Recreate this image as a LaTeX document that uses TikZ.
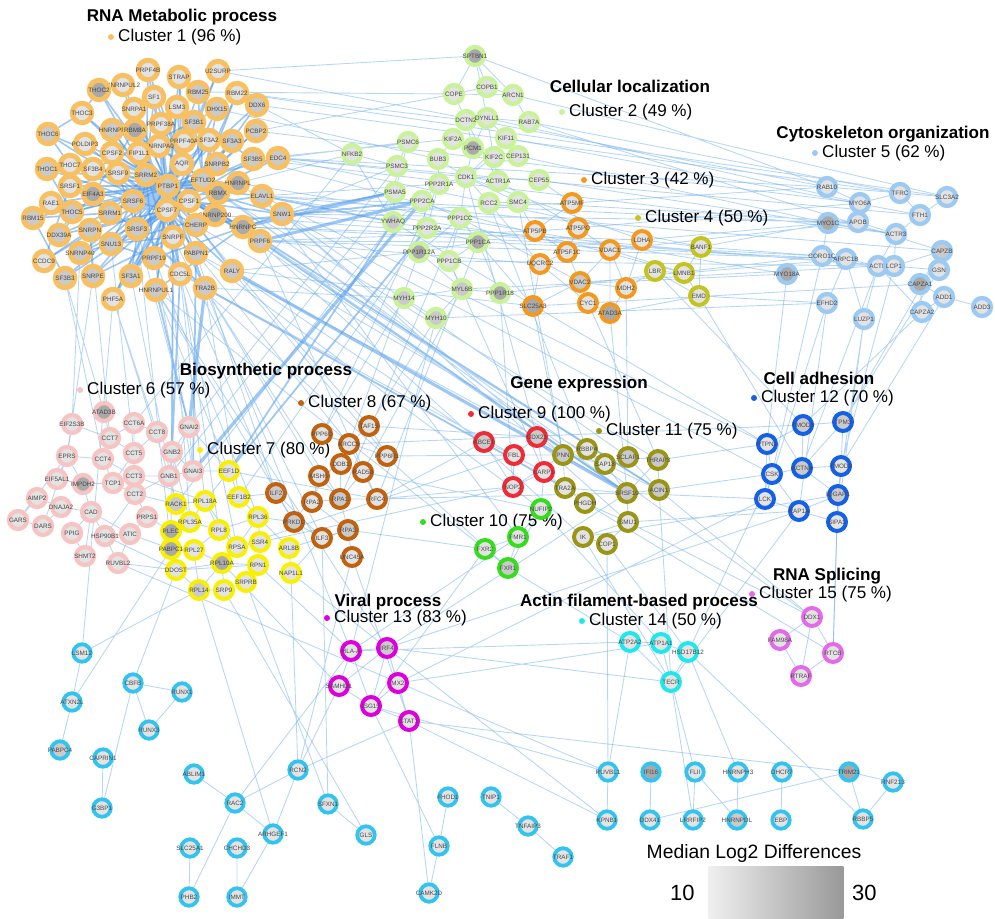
\documentclass[tikz,border=0pt]{standalone}
\usepackage{fontspec}
\setmainfont{Liberation Sans}
\setsansfont{Liberation Sans}
\usepackage{xcolor}
\usepackage{tikz}
\usetikzlibrary{positioning,backgrounds}

\definecolor{clOne}{HTML}{F7C163}
\definecolor{clTwo}{HTML}{C9F29B}
\definecolor{clThree}{HTML}{F39A1E}
\definecolor{clFour}{HTML}{C4C41F}
\definecolor{clFive}{HTML}{9DCAF2}
\definecolor{clSix}{HTML}{F6C5C3}
\definecolor{clSeven}{HTML}{F8F000}
\definecolor{clEight}{HTML}{C0620E}
\definecolor{clNine}{HTML}{EE2C38}
\definecolor{clTen}{HTML}{36DD1E}
\definecolor{clEleven}{HTML}{9B9515}
\definecolor{clTwelve}{HTML}{1460E6}
\definecolor{clThirteen}{HTML}{DD00DD}
\definecolor{clFourteen}{HTML}{1FE8EC}
\definecolor{clFifteen}{HTML}{E36AE8}
\definecolor{clRest}{HTML}{33C3EF}
\definecolor{edgeBlue}{HTML}{6FAEEB}
\definecolor{coreBlue}{HTML}{3D8FEA}
\definecolor{fillLo}{HTML}{E3E3E3}
\definecolor{fillMid}{HTML}{CACACA}
\definecolor{fillHi}{HTML}{A9A9A9}

\begin{document}
\begin{tikzpicture}[
    x=0.2mm, y=-0.2mm,
    font=\sffamily,
    gene/.style={circle, fill=fillLo, line width=0.85mm, minimum size=3.6mm, inner sep=0pt,
                 font=\sffamily\fontsize{3.6}{4}\selectfont, text=black!72,
                 execute at begin node={\hbox to 0pt\bgroup\hss},
                 execute at end node={\hss\egroup}},
    mid/.style={fill=fillMid},
    hi/.style={fill=fillHi},
    c1/.style={gene, draw=clOne, line width=1mm, minimum size=3.9mm},
    c2/.style={gene, draw=clTwo},
    c3/.style={gene, draw=clThree, line width=0.8mm},
    c4/.style={gene, draw=clFour, line width=0.8mm},
    c5/.style={gene, draw=clFive},
    c6/.style={gene, draw=clSix},
    c7/.style={gene, draw=clSeven, line width=0.8mm},
    c8/.style={gene, draw=clEight, line width=0.8mm},
    c9/.style={gene, draw=clNine, line width=0.8mm},
    c10/.style={gene, draw=clTen, line width=0.8mm},
    c11/.style={gene, draw=clEleven, line width=0.8mm},
    c12/.style={gene, draw=clTwelve, line width=0.8mm},
    c13/.style={gene, draw=clThirteen, line width=0.8mm},
    c14/.style={gene, draw=clFourteen, line width=0.8mm},
    c15/.style={gene, draw=clFifteen, line width=0.8mm},
    rest/.style={gene, draw=clRest, line width=0.75mm, minimum size=3.5mm},
    title/.style={font=\sffamily\bfseries\fontsize{9.7}{11}\selectfont, inner sep=0pt},
    clabel/.style={font=\sffamily\fontsize{9.7}{11}\selectfont, inner sep=0pt, anchor=west},
    cdot/.style={circle, inner sep=0pt, minimum size=1.2mm},
    legend/.style={font=\sffamily\fontsize{11}{13}\selectfont, inner sep=0pt},
    edge/.style={draw=edgeBlue, line width=0.5pt, opacity=0.5},
    coreedge/.style={draw=coreBlue, line width=0.9pt, opacity=0.5},
    bundle/.style={draw=coreBlue, line width=1.8pt, opacity=0.5}
]
\useasboundingbox (0,0) rectangle (995,919);

% Titles and cluster labels.
\node[title] (tOne) at (182,17) {RNA Metabolic process};
\node[cdot, fill=clOne] (dOne) at (111,37) {};
\node[clabel, right=0.7mm of dOne] (kOne) {Cluster 1 (96 \%)};
\node[title] (tTwo) at (630,86) {Cellular localization};
\node[cdot, fill=clTwo] (dTwo) at (562,112) {};
\node[clabel, right=0.7mm of dTwo] (kTwo) {Cluster 2 (49 \%)};
\node[cdot, fill=clThree] (dThree) at (584,180) {};
\node[clabel, right=0.7mm of dThree] (kThree) {Cluster 3 (42 \%)};
\node[cdot, fill=clFour] (dFour) at (638,218) {};
\node[clabel, right=0.7mm of dFour] (kFour) {Cluster 4 (50 \%)};
\node[title] (tFive) at (883,134) {Cytoskeleton organization};
\node[cdot, fill=clFive] (dFive) at (815,153) {};
\node[clabel, right=0.7mm of dFive] (kFive) {Cluster 5 (62 \%)};
\node[title] (tSix) at (266,371) {Biosynthetic process};
\node[cdot, fill=clSix] (dSix) at (80,390) {};
\node[clabel, right=0.7mm of dSix] (kSix) {Cluster 6 (57 \%)};
\node[cdot, fill=clSeven] (dSeven) at (200,450) {};
\node[clabel, right=0.7mm of dSeven] (kSeven) {Cluster 7 (80 \%)};
\node[cdot, fill=clEight] (dEight) at (301,403) {};
\node[clabel, right=0.7mm of dEight] (kEight) {Cluster 8 (67 \%)};
\node[title] (tNine) at (579,384) {Gene expression};
\node[cdot, fill=clNine] (dNine) at (471,414) {};
\node[clabel, right=0.7mm of dNine] (kNine) {Cluster 9 (100 \%)};
\node[cdot, fill=clTen] (dTen) at (423,522) {};
\node[clabel, right=0.7mm of dTen] (kTen) {Cluster 10 (75 \%)};
\node[cdot, fill=clEleven] (dEleven) at (599,431) {};
\node[clabel, right=0.7mm of dEleven] (kEleven) {Cluster 11 (75 \%)};
\node[title] (tTwelve) at (819,378) {Cell adhesion};
\node[cdot, fill=clTwelve] (dTwelve) at (754,398) {};
\node[clabel, right=0.7mm of dTwelve] (kTwelve) {Cluster 12 (70 \%)};
\node[title] (tThirteen) at (388,602) {Viral process};
\node[cdot, fill=clThirteen] (dThirteen) at (327,618) {};
\node[clabel, right=0.7mm of dThirteen] (kThirteen) {Cluster 13 (83 \%)};
\node[title] (tFourteen) at (639,602) {Actin filament-based process};
\node[cdot, fill=clFourteen] (dFourteen) at (582,621) {};
\node[clabel, right=0.7mm of dFourteen] (kFourteen) {Cluster 14 (50 \%)};
\node[title] (tFifteen) at (827,576) {RNA Splicing};
\node[cdot, fill=clFifteen] (dFifteen) at (752,594) {};
\node[clabel, right=0.7mm of dFifteen] (kFifteen) {Cluster 15 (75 \%)};

% Cluster 1: RNA metabolic process.
\node[c1] (PRPF4B) at (148,70) {PRPF4B};
\node[c1] (STRAP) at (179,77) {STRAP};
\node[c1] (U2SURP) at (218,71) {U2SURP};
\node[c1] (HNRNPUL2) at (123,85) {HNRNPUL2};
\node[c1, hi] (THOC2) at (99,90) {THOC2};
\node[c1] (SF1) at (154,97) {SF1};
\node[c1, mid] (RBM25) at (198,92) {RBM25};
\node[c1] (RBM22) at (237,93) {RBM22};
\node[c1, mid] (DDX6) at (257,105) {DDX6};
\node[c1] (LSM3) at (177,107) {LSM3};
\node[c1] (SNRPA1) at (134,109) {SNRPA1};
\node[c1, mid] (DHX15) at (217,109) {DHX15};
\node[c1] (THOC3) at (82,113) {THOC3};
\node[c1, mid] (SF3B1) at (194,122) {SF3B1};
\node[c1] (PRPF38A) at (161,124) {PRPF38A};
\node[c1, mid] (THOC6) at (48,134) {THOC6};
\node[c1, mid] (HNRNPF) at (112,130) {HNRNPF};
\node[c1, hi] (RBM8A) at (135,130) {RBM8A};
\node[c1, mid] (PCBP2) at (256,131) {PCBP2};
\node[c1] (PRPF40A) at (184,141) {PRPF40A};
\node[c1] (SF3A2) at (209,140) {SF3A2};
\node[c1, mid] (SF3A3) at (232,141) {SF3A3};
\node[c1] (POLDIP3) at (85,144) {POLDIP3};
\node[c1] (HNRNPA0) at (159,146) {HNRNPA0};
\node[c1] (CPSF2) at (112,153) {CPSF2};
\node[c1] (FIP1L1) at (139,153) {FIP1L1};
\node[c1, mid] (SF3B5) at (253,159) {SF3B5};
\node[c1, mid] (EDC4) at (278,158) {EDC4};
\node[c1] (AQR) at (182,164) {AQR};
\node[c1, mid] (SNRPB2) at (217,164) {SNRPB2};
\node[c1] (THOC7) at (70,165) {THOC7};
\node[c1, mid] (THOC1) at (47,169) {THOC1};
\node[c1] (SF3B4) at (93,169) {SF3B4};
\node[c1] (SRSF9) at (118,173) {SRSF9};
\node[c1, mid] (SRRM2) at (146,175) {SRRM2};
\node[c1, mid] (EFTUD2) at (203,180) {EFTUD2};
\node[c1, hi] (HNRNPL) at (238,183) {HNRNPL};
\node[c1, mid] (PTBP1) at (168,186) {PTBP1};
\node[c1] (SRSF1) at (70,186) {SRSF1};
\node[c1, hi] (EIF4A3) at (93,194) {EIF4A3};
\node[c1, hi] (RBMX) at (218,193) {RBMX};
\node[c1, mid] (ELAVL1) at (262,196) {ELAVL1};
\node[c1, mid] (SRSF6) at (133,201) {SRSF6};
\node[c1] (CPSF1) at (189,201) {CPSF1};
\node[c1] (RAE1) at (51,203) {RAE1};
\node[c1] (CPSF7) at (167,210) {CPSF7};
\node[c1, mid] (THOC5) at (72,212) {THOC5};
\node[c1, mid] (SRRM1) at (110,213) {SRRM1};
\node[c1, mid] (SNW1) at (282,214) {SNW1};
\node[c1, hi] (SNRNP200) at (215,215) {SNRNP200};
\node[c1, mid] (RBM15) at (33,218) {RBM15};
\node[c1, mid] (CHERP) at (196,225) {CHERP};
\node[c1, hi] (HNRNPC) at (243,227) {HNRNPC};
\node[c1, mid] (SRSF3) at (137,229) {SRSF3};
\node[c1, mid] (SNRPN) at (90,230) {SNRPN};
\node[c1, mid] (DDX39A) at (59,235) {DDX39A};
\node[c1] (SNRPF) at (173,237) {SNRPF};
\node[c1, mid] (PRPF6) at (260,241) {PRPF6};
\node[c1, mid] (SNU13) at (111,244) {SNU13};
\node[c1, mid] (PABPN1) at (196,253) {PABPN1};
\node[c1, mid] (SNRNP40) at (80,253) {SNRNP40};
\node[c1, mid] (PRPF19) at (154,258) {PRPF19};
\node[c1] (CCDC9) at (44,261) {CCDC9};
\node[c1, mid] (RALY) at (232,271) {RALY};
\node[c1] (CDC5L) at (180,274) {CDC5L};
\node[c1, mid] (SF3A1) at (131,276) {SF3A1};
\node[c1, mid] (SNRPE) at (93,276) {SNRPE};
\node[c1, mid] (SF3B3) at (65,278) {SF3B3};
\node[c1, mid] (TRA2B) at (205,288) {TRA2B};
\node[c1, mid] (HNRNPUL1) at (156,290) {HNRNPUL1};
\node[c1] (PHF5A) at (113,299) {PHF5A};

% Cluster 2: cellular localization.
\node[c2, hi] (SPTBN1) at (475,56) {SPTBN1};
\node[c2] (COPE) at (454,94) {COPE};
\node[c2] (COPB1) at (487,87) {COPB1};
\node[c2] (ARCN1) at (513,95) {ARCN1};
\node[c2] (DCTN2) at (466,120) {DCTN2};
\node[c2] (DYNLL1) at (487,118) {DYNLL1};
\node[c2] (RAB7A) at (529,122) {RAB7A};
\node[c2] (KIF2A) at (453,139) {KIF2A};
\node[c2, hi] (PCM1) at (473,148) {PCM1};
\node[c2] (KIF11) at (506,138) {KIF11};
\node[c2] (PSMC6) at (408,142) {PSMC6};
\node[c2] (NFKB2) at (352,154) {NFKB2};
\node[c2] (KIF2C) at (494,157) {KIF2C};
\node[c2] (CEP131) at (518,156) {CEP131};
\node[c2] (BUB3) at (438,159) {BUB3};
\node[c2] (PSMC3) at (397,166) {PSMC3};
\node[c2] (CDK1) at (466,177) {CDK1};
\node[c2] (PPP2R1A) at (439,184) {PPP2R1A};
\node[c2] (ACTR1A) at (498,181) {ACTR1A};
\node[c2] (CEP55) at (539,180) {CEP55};
\node[c2] (PSMA5) at (395,192) {PSMA5};
\node[c2] (PPP2CA) at (422,201) {PPP2CA};
\node[c2] (RCC2) at (489,203) {RCC2};
\node[c2] (SMC4) at (518,202) {SMC4};
\node[c2, mid] (YWHAQ) at (393,222) {YWHAQ};
\node[c2] (PPP1CC) at (460,218) {PPP1CC};
\node[c2] (PPP2R2A) at (427,228) {PPP2R2A};
\node[c2, hi] (PPP1CA) at (478,242) {PPP1CA};
\node[c2, hi] (PPP1R12A) at (419,252) {PPP1R12A};
\node[c2] (PPP1CB) at (449,261) {PPP1CB};
\node[c2, mid] (MYL6B) at (462,289) {MYL6B};
\node[c2, hi] (PPP1R18) at (500,293) {PPP1R18};
\node[c2, mid] (MYH14) at (404,298) {MYH14};
\node[c2, mid] (MYH10) at (436,318) {MYH10};

% Clusters 3 and 4.
\node[c3] (ATP5MF) at (572,203) {ATP5MF};
\node[c3] (ATP5PB) at (535,231) {ATP5PB};
\node[c3] (ATP5PO) at (578,228) {ATP5PO};
\node[c3] (LDHA) at (642,240) {LDHA};
\node[c3] (ATP5F1C) at (567,252) {ATP5F1C};
\node[c3] (VDAC1) at (610,250) {VDAC1};
\node[c3] (UQCRC2) at (540,264) {UQCRC2};
\node[c3, mid] (VDAC2) at (580,282) {VDAC2};
\node[c3] (MDH2) at (626,288) {MDH2};
\node[c3, hi] (SLC25A3) at (533,306) {SLC25A3};
\node[c3] (CYC1) at (588,303) {CYC1};
\node[c3, hi] (ATAD3A) at (610,313) {ATAD3A};
\node[c4] (BANF1) at (701,247) {BANF1};
\node[c4] (LBR) at (655,271) {LBR};
\node[c4] (LMNB1) at (684,273) {LMNB1};
\node[c4] (EMD) at (699,296) {EMD};

% Cluster 5: cytoskeleton organization.
\node[c5] (RAB10) at (827,187) {RAB10};
\node[c5] (TFRC) at (900,193) {TFRC};
\node[c5] (SLC3A2) at (947,197) {SLC3A2};
\node[c5] (MYO6A) at (860,203) {MYO6A};
\node[c5] (FTH1) at (920,215) {FTH1};
\node[c5, hi] (MYO1C) at (828,223) {MYO1C};
\node[c5] (APOB) at (858,222) {APOB};
\node[c5] (ACTR3) at (896,234) {ACTR3};
\node[c5, mid] (CAPZB) at (942,251) {CAPZB};
\node[c5] (CORO1C) at (822,256) {CORO1C};
\node[c5] (ARPC1B) at (846,259) {ARPC1B};
\node[c5] (ACTR) at (878,266) {ACTR};
\node[c5] (LCP1) at (894,266) {LCP1};
\node[c5] (GSN) at (939,270) {GSN};
\node[c5, hi] (MYO18A) at (787,274) {MYO18A};
\node[c5, hi] (CAPZA1) at (920,284) {CAPZA1};
\node[c5] (ADD1) at (944,297) {ADD1};
\node[c5] (EFHD2) at (827,303) {EFHD2};
\node[c5] (ADD3) at (982,307) {ADD3};
\node[c5] (CAPZA2) at (922,312) {CAPZA2};
\node[c5] (LUZP1) at (864,319) {LUZP1};

% Cluster 6.
\node[c6, hi] (ATAD3B) at (104,412) {ATAD3B};
\node[c6] (EIF2S3B) at (72,424) {EIF2S3B};
\node[c6] (CCT6A) at (134,423) {CCT6A};
\node[c6] (CCT8) at (157,432) {CCT8};
\node[c6] (GNAI2) at (189,427) {GNAI2};
\node[c6] (CCT7) at (110,438) {CCT7};
\node[c6] (EPRS) at (67,456) {EPRS};
\node[c6] (CCT4) at (103,459) {CCT4};
\node[c6] (CCT5) at (134,453) {CCT5};
\node[c6] (GNB2) at (172,452) {GNB2};
\node[c6] (GNB1) at (169,476) {GNB1};
\node[c6] (GNAI3) at (193,471) {GNAI3};
\node[c6] (EIF5AL1) at (57,479) {EIF5AL1};
\node[c6, hi] (IMPDH2) at (83,484) {IMPDH2};
\node[c6] (TCP1) at (113,483) {TCP1};
\node[c6] (CCT3) at (134,476) {CCT3};
\node[c6] (CCT2) at (135,494) {CCT2};
\node[c6] (AIMP2) at (37,498) {AIMP2};
\node[c6] (DNAJA2) at (61,507) {DNAJA2};
\node[c6] (CAD) at (91,512) {CAD};
\node[c6] (PRPS1) at (147,517) {PRPS1};
\node[c6] (GARS) at (18,520) {GARS};
\node[c6] (DARS) at (43,526) {DARS};
\node[c6] (PPIG) at (72,533) {PPIG};
\node[c6] (HSP90B1) at (105,536) {HSP90B1};
\node[c6] (ATIC) at (130,534) {ATIC};
\node[c6] (SHMT2) at (85,556) {SHMT2};
\node[c6] (RUVBL2) at (118,563) {RUVBL2};

% Cluster 7.
\node[c7] (EEF1D) at (229,471) {EEF1D};
\node[c7, mid] (RACK1) at (176,504) {RACK1};
\node[c7] (RPL18A) at (205,501) {RPL18A};
\node[c7] (EEF1B2) at (239,497) {EEF1B2};
\node[c7] (RPL36) at (258,517) {RPL36};
\node[c7] (RPL35A) at (190,522) {RPL35A};
\node[c7] (RPL8) at (219,530) {RPL8};
\node[c7, hi] (PLEC) at (171,531) {PLEC};
\node[c7] (SSR4) at (260,542) {SSR4};
\node[c7] (ARL8B) at (289,548) {ARL8B};
\node[c7] (RPSA) at (237,547) {RPSA};
\node[c7, hi] (PABPC1) at (171,549) {PABPC1};
\node[c7] (RPL27) at (194,550) {RPL27};
\node[c7] (DDOST) at (176,570) {DDOST};
\node[c7, hi] (RPL10A) at (222,563) {RPL10A};
\node[c7] (RPN1) at (258,565) {RPN1};
\node[c7] (NAP1L1) at (291,573) {NAP1L1};
\node[c7] (SRPRB) at (246,582) {SRPRB};
\node[c7, mid] (RPL14) at (199,590) {RPL14};
\node[c7] (SRP9) at (224,590) {SRP9};

% Cluster 8.
\node[c8] (TAF15) at (369,426) {TAF15};
\node[c8] (PPP6C) at (322,434) {PPP6C};
\node[c8] (XRCC5) at (349,444) {XRCC5};
\node[c8] (PPP6R1) at (387,456) {PPP6R1};
\node[c8] (DDB1) at (341,464) {DDB1};
\node[c8] (MSH6) at (319,476) {MSH6};
\node[c8] (RAD50) at (363,472) {RAD50};
\node[c8, mid] (ILF2) at (276,493) {ILF2};
\node[c8] (RPA2) at (312,502) {RPA2};
\node[c8, mid] (RPA1) at (340,499) {RPA1};
\node[c8] (RFC4) at (377,499) {RFC4};
\node[c8, mid] (PRKDC) at (294,522) {PRKDC};
\node[c8, mid] (RPA3) at (348,530) {RPA3};
\node[c8] (ILF3) at (322,538) {ILF3};
\node[c8] (UNC45A) at (352,557) {UNC45A};

% Clusters 9, 10 and 11: gene expression.
\node[c9, mid] (ABCE1) at (484,442) {ABCE1};
\node[c9, mid] (DDX21) at (537,437) {DDX21};
\node[c9] (FBL) at (514,455) {FBL};
\node[c9] (LARP1) at (544,472) {LARP1};
\node[c9] (NOP2) at (513,487) {NOP2};
\node[c10] (NUFIP2) at (541,509) {NUFIP2};
\node[c10] (FMR1) at (518,537) {FMR1};
\node[c10] (FXR2) at (485,549) {FXR2};
\node[c10, mid] (FXR1) at (508,568) {FXR1};
\node[c11, mid] (PNN) at (563,455) {PNN};
\node[c11] (RBBP4) at (587,449) {RBBP4};
\node[c11] (SAP18) at (605,464) {SAP18};
\node[c11, mid] (SCLAF1) at (628,457) {SCLAF1};
\node[c11, mid] (THRAP3) at (658,460) {THRAP3};
\node[c11] (TRA2A) at (565,488) {TRA2A};
\node[c11, mid] (SRSF10) at (627,493) {SRSF10};
\node[c11, mid] (ACIN1) at (659,490) {ACIN1};
\node[c11] (PHGDH) at (585,503) {PHGDH};
\node[c11] (SMU1) at (628,522) {SMU1};
\node[c11] (IK) at (583,537) {IK};
\node[c11] (COP1) at (607,544) {COP1};

% Cluster 12: cell adhesion.
\node[c12, mid] (TMOD3) at (803,425) {TMOD3};
\node[c12, mid] (TPM3) at (843,422) {TPM3};
\node[c12] (PTPN1) at (767,444) {PTPN1};
\node[c12, mid] (ACTN4) at (802,468) {ACTN4};
\node[c12] (TMOD2) at (841,466) {TMOD2};
\node[c12] (CSK) at (772,474) {CSK};
\node[c12] (LCK) at (765,499) {LCK};
\node[c12, mid] (IQGAP1) at (838,495) {IQGAP1};
\node[c12] (RAP1A) at (799,511) {RAP1A};
\node[c12] (SIPA1) at (837,522) {SIPA1};

% Clusters 13, 14 and 15.
\node[c13] (hlaA) at (351,651) {HLA-A};
\node[c13, mid] (IRF4) at (387,648) {IRF4};
\node[c13] (SAMHD1) at (339,686) {SAMHD1};
\node[c13] (MX2) at (398,683) {MX2};
\node[c13] (ISG15) at (371,706) {ISG15};
\node[c13] (STAT1) at (409,721) {STAT1};
\node[c14] (ATP2A2) at (630,642) {ATP2A2};
\node[c14] (ATP1A1) at (661,643) {ATP1A1};
\node[c14] (HSD17B12) at (688,652) {HSD17B12};
\node[c14] (TECR) at (671,682) {TECR};
\node[c15] (DDX1) at (812,617) {DDX1};
\node[c15] (FAM98A) at (780,640) {FAM98A};
\node[c15] (RTCB) at (833,653) {RTCB};
\node[c15] (RTRAF) at (801,676) {RTRAF};

% Proteins outside the clusters.
\node[rest] (LSM12) at (82,653) {LSM12};
\node[rest] (CBFB) at (133,683) {CBFB};
\node[rest] (RUNX1) at (182,692) {RUNX1};
\node[rest] (ATXN2L) at (72,702) {ATXN2L};
\node[rest] (RUNX3) at (149,730) {RUNX3};
\node[rest, mid] (PABPC4) at (60,750) {PABPC4};
\node[rest] (CAPRIN1) at (103,758) {CAPRIN1};
\node[rest] (ABLIM1) at (194,774) {ABLIM1};
\node[rest] (RCN2) at (298,770) {RCN2};
\node[rest] (RAC2) at (235,803) {RAC2};
\node[rest] (SFXN1) at (328,804) {SFXN1};
\node[rest] (G3BP1) at (102,808) {G3BP1};
\node[rest] (ARHGEF1) at (273,834) {ARHGEF1};
\node[rest] (GLS) at (366,835) {GLS};
\node[rest] (SLC25A1) at (190,848) {SLC25A1};
\node[rest] (CHCHD3) at (237,848) {CHCHD3};
\node[rest] (PHB2) at (189,897) {PHB2};
\node[rest] (IMMT) at (237,897) {IMMT};
\node[rest] (CAMK2D) at (429,893) {CAMK2D};
\node[rest] (FHOD1) at (448,797) {FHOD1};
\node[rest] (TNIP1) at (491,797) {TNIP1};
\node[rest] (TNFAIP3) at (528,826) {TNFAIP3};
\node[rest] (FLNB) at (439,846) {FLNB};
\node[rest] (TRAF1) at (563,857) {TRAF1};
\node[rest] (RUVBL1) at (608,772) {RUVBL1};
\node[rest, hi] (IFI16) at (651,772) {IFI16};
\node[rest] (FLII) at (695,772) {FLII};
\node[rest] (HNRNPH3) at (738,772) {HNRNPH3};
\node[rest] (DHCR7) at (782,772) {DHCR7};
\node[rest, hi] (TRIM21) at (849,772) {TRIM21};
\node[rest] (RNF213) at (893,782) {RNF213};
\node[rest] (KPNB1) at (607,820) {KPNB1};
\node[rest] (DDX41) at (650,820) {DDX41};
\node[rest] (LRRFIP2) at (693,820) {LRRFIP2};
\node[rest, mid] (HNRNPDL) at (737,820) {HNRNPDL};
\node[rest] (EBP) at (781,820) {EBP};
\node[rest] (RBBP5) at (863,819) {RBBP5};

% Legend.
\node[legend] (lg) at (754,853) {Median Log2 Differences};
\node[left color=white!94!black, right color=black!40, minimum width=27mm, minimum height=10.6mm,
      inner sep=0pt, anchor=north west] (bar) at (708,866) {};
\node[legend, font=\sffamily\fontsize{12.5}{14}\selectfont, left=2.6mm of bar] (loVal) {10};
\node[legend, font=\sffamily\fontsize{12.5}{14}\selectfont, right=1.6mm of bar] (hiVal) {30};

\begin{scope}[on background layer]
% Cluster 1 core.
\draw[coreedge] (PRPF4B) -- (AQR) (STRAP) -- (AQR) (U2SURP) -- (AQR) (HNRNPUL2) -- (SRRM2) (THOC2) -- (SRRM2)
  (SF1) -- (AQR) (RBM25) -- (EFTUD2) (RBM22) -- (EFTUD2) (DDX6) -- (EFTUD2) (LSM3) -- (AQR) (SNRPA1) -- (SRRM2)
  (DHX15) -- (EFTUD2) (THOC3) -- (SRRM2) (SF3B1) -- (AQR) (PRPF38A) -- (AQR) (THOC6) -- (SRRM2) (HNRNPF) -- (SRRM2)
  (RBM8A) -- (SRRM2) (PCBP2) -- (EFTUD2) (PRPF40A) -- (AQR) (SF3A2) -- (AQR) (SF3A3) -- (EFTUD2) (POLDIP3) -- (SRRM2)
  (HNRNPA0) -- (AQR) (CPSF2) -- (PTBP1) (FIP1L1) -- (PTBP1) (SF3B5) -- (EFTUD2) (EDC4) -- (PTBP1) (SNRPB2) -- (PTBP1)
  (THOC7) -- (SRRM2) (THOC1) -- (PTBP1) (SF3B4) -- (SRRM2) (SRSF9) -- (PTBP1) (SRRM2) -- (PTBP1) (EFTUD2) -- (PTBP1)
  (HNRNPL) -- (PTBP1) (SRSF1) -- (PTBP1) (EIF4A3) -- (PTBP1) (RBMX) -- (PTBP1) (ELAVL1) -- (PTBP1) (SRSF6) -- (PTBP1)
  (CPSF1) -- (PTBP1) (RAE1) -- (PTBP1) (CPSF7) -- (PTBP1) (THOC5) -- (PTBP1) (SRRM1) -- (PTBP1) (SNW1) -- (CPSF1)
  (SNRNP200) -- (PTBP1) (RBM15) -- (SRRM1) (CHERP) -- (CPSF7) (HNRNPC) -- (PTBP1) (SRSF3) -- (PTBP1) (SNRPN) -- (CPSF7)
  (DDX39A) -- (PTBP1) (SNRPF) -- (PTBP1) (PRPF6) -- (CPSF1) (SNU13) -- (CPSF7) (PABPN1) -- (CPSF7) (SNRNP40) -- (CPSF7)
  (PRPF19) -- (CPSF7) (CCDC9) -- (SRSF1) (RALY) -- (CPSF7) (CDC5L) -- (CPSF7) (SF3A1) -- (CPSF7) (SNRPE) -- (CPSF7)
  (SF3B3) -- (CPSF7) (TRA2B) -- (CPSF7) (HNRNPUL1) -- (CPSF7) (PHF5A) -- (CPSF7);
\draw[coreedge] (PRPF4B) -- (SRRM2) (STRAP) -- (CPSF1) (U2SURP) -- (PTBP1) (HNRNPUL2) -- (PTBP1) (THOC2) -- (PTBP1)
  (SF1) -- (SRRM2) (RBM25) -- (PTBP1) (RBM22) -- (CPSF1) (DDX6) -- (PTBP1) (LSM3) -- (CPSF7) (SNRPA1) -- (CPSF7)
  (DHX15) -- (CPSF7) (THOC3) -- (PTBP1) (SF3B1) -- (CPSF7) (PRPF38A) -- (CPSF7) (THOC6) -- (CPSF7) (HNRNPF) -- (CPSF7)
  (RBM8A) -- (EFTUD2) (PCBP2) -- (CPSF7) (PRPF40A) -- (CPSF7) (SF3A2) -- (CPSF7) (SF3A3) -- (CPSF7) (POLDIP3) -- (CPSF7)
  (HNRNPA0) -- (CPSF7) (CPSF2) -- (CPSF1) (FIP1L1) -- (CPSF1) (SF3B5) -- (CPSF7) (EDC4) -- (CPSF7) (SNRPB2) -- (SRSF3)
  (THOC7) -- (CPSF7) (THOC1) -- (CPSF7) (SF3B4) -- (CPSF7) (SRSF9) -- (CPSF7) (HNRNPL) -- (SRSF3) (SRSF1) -- (CPSF7)
  (EIF4A3) -- (EFTUD2) (RBMX) -- (SRSF6) (ELAVL1) -- (CPSF7) (SRSF6) -- (EFTUD2) (RAE1) -- (CPSF7) (THOC5) -- (EFTUD2)
  (SRRM1) -- (AQR) (SNW1) -- (SRRM2) (SNRNP200) -- (SRRM2) (RBM15) -- (PTBP1) (CHERP) -- (SRRM2) (HNRNPC) -- (SRRM2)
  (SRSF3) -- (AQR) (SNRPN) -- (AQR) (DDX39A) -- (CPSF7) (SNRPF) -- (SRRM2) (PRPF6) -- (SRRM2) (SNU13) -- (PTBP1)
  (PABPN1) -- (SRRM2) (SNRNP40) -- (PTBP1) (PRPF19) -- (PTBP1) (CCDC9) -- (PTBP1) (RALY) -- (PTBP1) (CDC5L) -- (PTBP1)
  (SF3A1) -- (PTBP1) (SNRPE) -- (PTBP1) (SF3B3) -- (PTBP1) (TRA2B) -- (PTBP1) (HNRNPUL1) -- (PTBP1) (PHF5A) -- (PTBP1);
\draw[coreedge] (SNRNP200) -- (EFTUD2) (SNRNP200) -- (CPSF1) (SNRNP200) -- (CHERP) (SNRNP200) -- (HNRNPC)
  (SNRNP200) -- (RBMX) (EFTUD2) -- (SF3B1) (EFTUD2) -- (AQR) (EFTUD2) -- (SNRPB2) (EFTUD2) -- (RBMX)
  (SF3B1) -- (SF3A2) (SF3B1) -- (PRPF40A) (SF3B1) -- (SF3B4) (SF3B1) -- (SF3B5) (SF3B1) -- (PHF5A) (SF3A1) -- (SF3A3)
  (SF3A1) -- (SF3A2) (SRSF3) -- (SRSF6) (SRSF3) -- (SRSF1) (SRSF3) -- (SRSF9) (SRSF3) -- (TRA2B) (THOC2) -- (THOC3)
  (THOC3) -- (THOC6) (THOC6) -- (THOC7) (THOC7) -- (THOC1) (THOC1) -- (THOC5) (THOC5) -- (DDX39A) (DDX39A) -- (EIF4A3)
  (EIF4A3) -- (RBM8A) (EIF4A3) -- (SRRM1) (SRRM1) -- (SRRM2) (SNRPN) -- (SNRPE) (SNRPE) -- (SNRPF) (SNRPF) -- (SNU13)
  (SNU13) -- (PRPF19) (PRPF19) -- (CDC5L) (CPSF2) -- (FIP1L1) (CPSF1) -- (FIP1L1) (CPSF7) -- (CPSF1)
  (HNRNPA0) -- (HNRNPF) (HNRNPUL1) -- (HNRNPC) (DHX15) -- (SF3B1) (SNRNP40) -- (SNRNP200) (SNW1) -- (PRPF19)
  (CCDC9) -- (SNRPN) (RBM15) -- (SF3B3) (SRSF9) -- (SRSF1) (CPSF2) -- (SRSF9);
\draw[coreedge] (PRPF4B) -- (PTBP1) (STRAP) -- (PTBP1) (SF1) -- (PTBP1) (LSM3) -- (PTBP1) (SNRPA1) -- (PTBP1)
  (PRPF38A) -- (PTBP1) (SF3B1) -- (PTBP1) (PRPF40A) -- (PTBP1) (HNRNPA0) -- (PTBP1) (SF3A2) -- (PTBP1)
  (SNRPB2) -- (CPSF7) (SF3B4) -- (PTBP1) (SRSF6) -- (CPSF7) (SRSF3) -- (CPSF7) (SNRPF) -- (CPSF7) (CHERP) -- (PTBP1)
  (PABPN1) -- (PTBP1) (CDC5L) -- (SRRM2) (SF3A1) -- (SRRM2) (SNU13) -- (SRRM2) (PRPF19) -- (SRRM2);

% Heavy bundles between clusters.
\draw[bundle] (HNRNPC) -- (PSMA5) (PRPF6) -- (PPP2CA) (PPP2CA) -- (GNAI3) (RALY) -- (SRSF10) (TRA2B) -- (GNAI2);
\draw[bundle, line width=1pt] (SNW1) -- (PSMA5) (ELAVL1) -- (YWHAQ) (CHERP) -- (PPP2CA) (PRPF6) -- (SRSF10)
  (HNRNPC) -- (ACIN1) (PABPN1) -- (GNAI3) (SNRPF) -- (GNB2) (CDC5L) -- (GNB2) (YWHAQ) -- (EEF1D)
  (PPP2R2A) -- (EEF1D) (HNRNPUL1) -- (GNAI2) (TRA2B) -- (TRA2A);

% Cluster 1 to the other clusters.
\draw[edge] (EDC4) -- (RAB10) (ELAVL1) -- (MYO1C) (SNW1) -- (APOB) (DDX6) -- (TFRC) (PCBP2) -- (MYO6A)
  (HNRNPC) -- (CORO1C) (SF3B5) -- (ACTR3) (RBM22) -- (SLC3A2) (PRPF6) -- (ARPC1B) (HNRNPL) -- (MYO18A)
  (SNW1) -- (ACTR) (ELAVL1) -- (CAPZB) (U2SURP) -- (RAB10) (EDC4) -- (FTH1) (SNRNP200) -- (LCP1);
\draw[edge] (SNW1) -- (ATP5MF) (ELAVL1) -- (VDAC1) (PRPF6) -- (UQCRC2) (HNRNPC) -- (LDHA) (EDC4) -- (BANF1)
  (SF3B5) -- (LMNB1) (RALY) -- (SLC25A3) (PRPF6) -- (ATP5PB);
\draw[edge] (EDC4) -- (PSMC6) (ELAVL1) -- (PPP2R1A) (DDX6) -- (NFKB2) (PCBP2) -- (COPE) (U2SURP) -- (SPTBN1)
  (RBM22) -- (DCTN2) (SF3B5) -- (KIF2A) (PRPF6) -- (PPP1CA) (RALY) -- (PPP1R12A) (TRA2B) -- (MYH14)
  (EDC4) -- (CDK1) (SNW1) -- (PSMC3) (HNRNPL) -- (NFKB2) (RBM25) -- (COPE) (DHX15) -- (BUB3);
\draw[edge] (SRSF3) -- (GNAI2) (SNU13) -- (CCT5) (PRPF19) -- (GNAI3) (SF3A1) -- (RACK1) (HNRNPUL1) -- (EEF1D)
  (CDC5L) -- (RPL18A) (PHF5A) -- (CCT8) (SNRPE) -- (EPRS) (SF3B3) -- (ATAD3B) (PTBP1) -- (RPL8)
  (CPSF7) -- (RPL35A) (SNRPF) -- (PLEC) (TRA2B) -- (EEF1B2) (SRSF3) -- (PABPC1) (CDC5L) -- (RPSA)
  (CHERP) -- (TAF15) (PABPN1) -- (XRCC5) (TRA2B) -- (RPA1) (RALY) -- (PPP6R1) (PRPF6) -- (RFC4)
  (CDC5L) -- (ILF2) (SNRPF) -- (ILF3) (HNRNPUL1) -- (PRKDC) (PABPN1) -- (ILF2) (SNRPN) -- (CCT7)
  (PHF5A) -- (GNB1) (SNRNP40) -- (EIF2S3B) (SF3B3) -- (CCT4) (PRPF19) -- (RPL36) (TRA2B) -- (MSH6);
\draw[edge] (HNRNPC) -- (SRSF10) (SNRNP200) -- (SRSF10) (PRPF6) -- (ACIN1) (RBMX) -- (THRAP3) (HNRNPL) -- (SCLAF1)
  (SNW1) -- (PNN) (CHERP) -- (SAP18) (EFTUD2) -- (SRSF10) (RALY) -- (ABCE1) (PABPN1) -- (DDX21)
  (CDC5L) -- (FBL) (ELAVL1) -- (PTPN1) (SNW1) -- (CSK) (TRA2B) -- (hlaA) (PHF5A) -- (LSM12)
  (HNRNPUL1) -- (IRF4) (SRSF3) -- (FXR1) (ELAVL1) -- (FMR1) (PABPN1) -- (NUFIP2) (HNRNPC) -- (IK)
  (SNW1) -- (SMU1) (RBMX) -- (DDX1) (HNRNPUL1) -- (FXR2);

% Cluster 2.
\draw[edge] (SPTBN1) -- (COPE) (SPTBN1) -- (COPB1) (SPTBN1) -- (ARCN1) (SPTBN1) -- (DYNLL1) (COPE) -- (COPB1)
  (COPB1) -- (ARCN1) (COPE) -- (ARCN1) (COPE) -- (DCTN2) (DCTN2) -- (DYNLL1) (DYNLL1) -- (PCM1) (DCTN2) -- (PCM1)
  (DYNLL1) -- (KIF11) (KIF11) -- (KIF2C) (PCM1) -- (KIF2C) (PCM1) -- (CEP131) (KIF2A) -- (KIF2C) (KIF2A) -- (BUB3)
  (BUB3) -- (CDK1) (CDK1) -- (KIF2C) (CDK1) -- (PCM1) (CDK1) -- (ACTR1A) (DCTN2) -- (ACTR1A) (DYNLL1) -- (ACTR1A)
  (CDK1) -- (PPP2R1A) (PPP2R1A) -- (PPP2CA) (PPP2CA) -- (PPP2R2A) (PPP2R1A) -- (PPP2R2A) (PSMC6) -- (PSMC3)
  (PSMC3) -- (PSMA5) (PSMC6) -- (PSMA5) (PSMA5) -- (YWHAQ) (YWHAQ) -- (PPP2CA) (PPP1CC) -- (PPP1CA)
  (PPP1CA) -- (PPP1CB) (PPP1CB) -- (PPP1R12A) (PPP1CA) -- (PPP1R12A) (PPP1CC) -- (PPP1CB) (PPP1CB) -- (MYL6B)
  (MYL6B) -- (MYH14) (MYL6B) -- (MYH10) (MYH14) -- (MYH10) (MYL6B) -- (PPP1R18) (PPP1CA) -- (PPP1R18)
  (PPP1R12A) -- (MYL6B) (CDK1) -- (RCC2) (RCC2) -- (SMC4) (CDK1) -- (PPP1CC) (CEP55) -- (CDK1) (NFKB2) -- (PSMC3)
  (NFKB2) -- (YWHAQ) (PPP2CA) -- (PPP1CC) (RAB7A) -- (DYNLL1) (ARCN1) -- (RAB7A) (CDK1) -- (SMC4)
  (BUB3) -- (PPP2R1A) (KIF11) -- (CDK1) (PPP2R2A) -- (PPP1CA) (PPP1R12A) -- (PPP1CC);
\draw[edge] (SPTBN1) -- (RAB10) (ARCN1) -- (SLC3A2) (RAB7A) -- (TFRC) (CEP131) -- (MYO1C) (SMC4) -- (APOB)
  (CEP55) -- (ACTR3) (MYL6B) -- (MYO18A) (PPP1R18) -- (CORO1C) (PPP1CB) -- (ACTR) (DYNLL1) -- (MYO6A)
  (KIF11) -- (FTH1) (PPP1CA) -- (ARPC1B) (MYH10) -- (EFHD2) (RAB7A) -- (CAPZB)
  (SMC4) -- (ATP5PB) (CEP55) -- (ATP5MF) (RCC2) -- (UQCRC2) (PPP1CA) -- (SLC25A3) (ACTR1A) -- (ATP5PO)
  (PPP1CC) -- (VDAC2) (CDK1) -- (LDHA);
\draw[edge] (YWHAQ) -- (RACK1) (PSMA5) -- (GNB1) (PPP1CC) -- (RPA1) (PPP1CA) -- (RFC4) (MYH14) -- (PPP6C)
  (MYH10) -- (TAF15) (PPP1R12A) -- (XRCC5) (MYL6B) -- (RAD50) (PPP2R2A) -- (EEF1B2) (NFKB2) -- (CCT6A)
  (PSMC3) -- (GNAI2) (PPP2R1A) -- (PPP6C) (CDK1) -- (DDX21) (PPP1CB) -- (LARP1) (SMC4) -- (PNN)
  (RCC2) -- (RBBP4) (MYH10) -- (hlaA) (PPP1R18) -- (NOP2) (YWHAQ) -- (PTPN1);

% Clusters 3, 4 and 5.
\draw[edge] (ATP5MF) -- (ATP5PO) (ATP5MF) -- (ATP5PB) (ATP5PB) -- (ATP5PO) (ATP5PO) -- (ATP5F1C) (ATP5PB) -- (ATP5F1C)
  (ATP5F1C) -- (UQCRC2) (ATP5F1C) -- (VDAC2) (VDAC1) -- (VDAC2) (VDAC1) -- (ATP5PO) (UQCRC2) -- (CYC1)
  (VDAC2) -- (CYC1) (VDAC2) -- (MDH2) (CYC1) -- (ATAD3A) (SLC25A3) -- (VDAC2) (SLC25A3) -- (CYC1)
  (MDH2) -- (ATAD3A) (VDAC1) -- (ATAD3A) (LDHA) -- (MDH2) (UQCRC2) -- (SLC25A3) (VDAC1) -- (MDH2)
  (BANF1) -- (LMNB1) (LBR) -- (LMNB1) (LMNB1) -- (EMD) (BANF1) -- (EMD) (LBR) -- (EMD);
\draw[edge] (LDHA) -- (BANF1) (VDAC1) -- (LMNB1) (ATAD3A) -- (EMD) (MDH2) -- (LBR) (LDHA) -- (MYO1C)
  (VDAC2) -- (ACTR) (CYC1) -- (CAPZA1) (ATP5MF) -- (RAB10) (BANF1) -- (CORO1C) (LMNB1) -- (ARPC1B)
  (EMD) -- (EFHD2) (BANF1) -- (MYO1C) (LBR) -- (TMOD3) (EMD) -- (ACTN4) (ATAD3A) -- (SRSF10)
  (MDH2) -- (SCLAF1) (SLC25A3) -- (PNN) (CYC1) -- (THRAP3) (VDAC1) -- (APOB) (ATP5PO) -- (MYO6A);
\draw[edge] (RAB10) -- (MYO6A) (MYO6A) -- (APOB) (MYO1C) -- (APOB) (TFRC) -- (SLC3A2) (TFRC) -- (FTH1)
  (SLC3A2) -- (FTH1) (APOB) -- (ACTR3) (ACTR3) -- (ACTR) (ACTR3) -- (LCP1) (CORO1C) -- (ARPC1B)
  (ARPC1B) -- (ACTR) (ACTR) -- (LCP1) (LCP1) -- (CAPZB) (LCP1) -- (GSN) (CAPZB) -- (GSN) (GSN) -- (CAPZA1)
  (CAPZA1) -- (ADD1) (ADD1) -- (ADD3) (ADD1) -- (CAPZA2) (CAPZA1) -- (CAPZA2) (ACTR) -- (CAPZA2)
  (ARPC1B) -- (LUZP1) (ACTR) -- (LUZP1) (MYO1C) -- (ACTR3) (FTH1) -- (ACTR3) (MYO1C) -- (CORO1C)
  (TFRC) -- (MYO6A) (EFHD2) -- (ARPC1B) (CAPZB) -- (CAPZA1) (RAB10) -- (TFRC);
\draw[edge] (ACTR) -- (ACTN4) (LCP1) -- (TMOD2) (CAPZA2) -- (TMOD3) (CAPZB) -- (TPM3) (LUZP1) -- (IQGAP1)
  (EFHD2) -- (LCK) (MYO18A) -- (PTPN1) (CORO1C) -- (CSK) (GSN) -- (TPM3) (ADD1) -- (TMOD2)
  (LUZP1) -- (SIPA1) (EFHD2) -- (RAP1A);

% Clusters 6, 7 and 8.
\draw[edge] (ATAD3B) -- (CCT7) (CCT6A) -- (CCT7) (CCT6A) -- (CCT8) (CCT7) -- (CCT4) (CCT7) -- (CCT5) (CCT8) -- (CCT5)
  (CCT4) -- (TCP1) (CCT5) -- (TCP1) (CCT5) -- (CCT3) (CCT4) -- (CCT3) (TCP1) -- (CCT3) (TCP1) -- (CCT2)
  (CCT3) -- (CCT2) (CCT2) -- (PRPS1) (GNAI2) -- (GNB2) (GNB2) -- (GNB1) (GNB1) -- (GNAI3) (GNB2) -- (GNAI3)
  (GNAI2) -- (GNB1) (GNAI2) -- (GNAI3) (EPRS) -- (EIF5AL1) (EPRS) -- (IMPDH2) (EIF5AL1) -- (IMPDH2)
  (AIMP2) -- (DNAJA2) (AIMP2) -- (GARS) (GARS) -- (DARS) (DARS) -- (DNAJA2) (DNAJA2) -- (CAD) (CAD) -- (IMPDH2)
  (CAD) -- (PPIG) (CAD) -- (HSP90B1) (CAD) -- (ATIC) (HSP90B1) -- (ATIC) (ATIC) -- (PRPS1) (SHMT2) -- (CAD)
  (RUVBL2) -- (ATIC) (PPIG) -- (SHMT2) (EPRS) -- (CCT4) (EIF2S3B) -- (EPRS) (EIF2S3B) -- (CCT7)
  (IMPDH2) -- (TCP1) (CCT3) -- (GNB1) (CCT2) -- (GNB1) (DARS) -- (EPRS) (GARS) -- (EPRS) (HSP90B1) -- (CCT2)
  (RUVBL2) -- (HSP90B1) (CCT6A) -- (CCT3);
\draw[edge] (CCT2) -- (RACK1) (PRPS1) -- (PLEC) (GNB1) -- (RACK1) (GNAI3) -- (EEF1D) (RUVBL2) -- (DDOST)
  (ATIC) -- (PABPC1) (HSP90B1) -- (DDOST) (GNAI2) -- (EEF1D) (CCT3) -- (RPL18A) (GNB2) -- (RPL35A);
\draw[edge] (EEF1D) -- (EEF1B2) (EEF1D) -- (RPL18A) (RACK1) -- (RPL18A) (RACK1) -- (RPL35A) (RPL18A) -- (RPL35A)
  (RPL18A) -- (RPL8) (RPL35A) -- (RPL8) (RPL35A) -- (PLEC) (PLEC) -- (PABPC1) (PABPC1) -- (RPL27) (RPL27) -- (RPL8)
  (RPL8) -- (RPSA) (RPSA) -- (RPL10A) (RPL27) -- (RPL10A) (RPL10A) -- (DDOST) (DDOST) -- (RPL14) (RPL14) -- (SRP9)
  (SRP9) -- (SRPRB) (SRPRB) -- (RPN1) (RPN1) -- (SSR4) (SSR4) -- (RPL36) (RPL36) -- (EEF1B2) (RPSA) -- (SSR4)
  (RPL10A) -- (RPN1) (RPL10A) -- (RPL14) (RPL10A) -- (SRP9) (DDOST) -- (RPN1) (PABPC1) -- (DDOST)
  (RPL27) -- (RPL14) (RPL36) -- (RPL8) (ARL8B) -- (NAP1L1) (ARL8B) -- (RPL36) (RPSA) -- (RPL36) (RPL18A) -- (RPSA);
\draw[edge] (PABPC1) -- (ATXN2L) (DDOST) -- (CBFB) (RPL14) -- (ARHGEF1) (SRP9) -- (GLS) (SRPRB) -- (SFXN1)
  (RPL14) -- (LSM12) (EEF1B2) -- (ILF2) (RPL36) -- (PRKDC) (NAP1L1) -- (ILF3) (RPN1) -- (hlaA)
  (ARL8B) -- (RPA3) (SSR4) -- (NOP2) (RPSA) -- (FBL) (EEF1D) -- (RFC4) (RPL10A) -- (SAMHD1) (NAP1L1) -- (RCN2);
\draw[edge] (TAF15) -- (XRCC5) (PPP6C) -- (XRCC5) (PPP6C) -- (PPP6R1) (XRCC5) -- (DDB1) (XRCC5) -- (RAD50)
  (DDB1) -- (MSH6) (DDB1) -- (RPA1) (MSH6) -- (RPA2) (RPA2) -- (RPA1) (RPA1) -- (RPA3) (RPA2) -- (RPA3)
  (RPA1) -- (RFC4) (RAD50) -- (RPA1) (RAD50) -- (RFC4) (ILF2) -- (ILF3) (ILF2) -- (PRKDC) (PRKDC) -- (ILF3)
  (PRKDC) -- (XRCC5) (ILF3) -- (RPA3) (RPA3) -- (UNC45A) (MSH6) -- (RPA1) (DDB1) -- (RAD50) (TAF15) -- (PPP6R1);
\draw[edge] (RFC4) -- (NOP2) (RFC4) -- (ABCE1) (RFC4) -- (SRSF10) (ILF3) -- (SFXN1) (UNC45A) -- (RCN2)
  (TAF15) -- (DDX21) (PPP6R1) -- (FBL) (RAD50) -- (NUFIP2) (RPA3) -- (FXR2) (UNC45A) -- (STAT1)
  (XRCC5) -- (TMOD3) (RUVBL2) -- (RUVBL1);

% Clusters 9 to 12.
\draw[edge] (ABCE1) -- (FBL) (DDX21) -- (FBL) (FBL) -- (LARP1) (FBL) -- (NOP2) (DDX21) -- (LARP1) (LARP1) -- (NOP2)
  (ABCE1) -- (NOP2) (LARP1) -- (NUFIP2) (NOP2) -- (PNN) (DDX21) -- (PNN) (LARP1) -- (TRA2A) (FBL) -- (PNN)
  (NUFIP2) -- (FMR1) (FMR1) -- (FXR2) (FMR1) -- (FXR1) (FXR2) -- (FXR1) (NUFIP2) -- (FXR1);
\draw[edge] (PNN) -- (RBBP4) (PNN) -- (SAP18) (RBBP4) -- (SAP18) (SAP18) -- (SCLAF1) (SCLAF1) -- (THRAP3)
  (PNN) -- (SRSF10) (SAP18) -- (SRSF10) (THRAP3) -- (ACIN1) (SCLAF1) -- (ACIN1) (SRSF10) -- (ACIN1)
  (TRA2A) -- (SRSF10) (TRA2A) -- (PHGDH) (PHGDH) -- (SMU1) (SMU1) -- (COP1) (IK) -- (SMU1) (IK) -- (COP1)
  (SRSF10) -- (SMU1) (PNN) -- (TRA2A) (SAP18) -- (ACIN1) (THRAP3) -- (SRSF10);
\draw[edge] (ACIN1) -- (CSK) (THRAP3) -- (PTPN1) (SRSF10) -- (LCK) (SMU1) -- (RAP1A) (IK) -- (IQGAP1)
  (COP1) -- (HSD17B12) (SMU1) -- (DDX1) (IK) -- (TECR) (COP1) -- (RUVBL1) (PHGDH) -- (RTCB)
  (FXR1) -- (ATP2A2) (NUFIP2) -- (ATP1A1) (FMR1) -- (hlaA) (FXR2) -- (ISG15);
\draw[edge] (TMOD3) -- (TPM3) (TMOD3) -- (ACTN4) (TPM3) -- (TMOD2) (TPM3) -- (ACTN4) (PTPN1) -- (CSK)
  (CSK) -- (LCK) (PTPN1) -- (LCK) (ACTN4) -- (CSK) (ACTN4) -- (TMOD2) (ACTN4) -- (IQGAP1) (TMOD2) -- (IQGAP1)
  (LCK) -- (RAP1A) (RAP1A) -- (IQGAP1) (RAP1A) -- (SIPA1) (IQGAP1) -- (SIPA1) (CSK) -- (RAP1A) (TMOD3) -- (PTPN1)
  (SIPA1) -- (RTCB) (RAP1A) -- (TECR) (CSK) -- (HSD17B12);

% Clusters 13 to 15 and the proteins below.
\draw[edge] (hlaA) -- (IRF4) (hlaA) -- (SAMHD1) (hlaA) -- (ISG15) (IRF4) -- (MX2) (IRF4) -- (SAMHD1)
  (SAMHD1) -- (ISG15) (MX2) -- (ISG15) (MX2) -- (STAT1) (ISG15) -- (STAT1) (IRF4) -- (ISG15) (IRF4) -- (STAT1);
\draw[edge] (STAT1) -- (RCN2) (SAMHD1) -- (RCN2) (STAT1) -- (CAMK2D) (ISG15) -- (FLNB) (RAC2) -- (hlaA)
  (IRF4) -- (TECR) (MX2) -- (ATP1A1) (STAT1) -- (TRIM21) (ISG15) -- (RUVBL1) (STAT1) -- (KPNB1)
  (IRF4) -- (SRSF10) (MX2) -- (LCK) (hlaA) -- (ATP2A2) (IRF4) -- (RAP1A);
\draw[edge] (ATP2A2) -- (ATP1A1) (ATP1A1) -- (HSD17B12) (ATP1A1) -- (TECR) (HSD17B12) -- (TECR) (ATP2A2) -- (TECR)
  (ATP1A1) -- (FLII) (HSD17B12) -- (HNRNPH3) (HSD17B12) -- (RBBP5) (ATP2A2) -- (RUVBL1) (TECR) -- (LRRFIP2)
  (TECR) -- (ACIN1);
\draw[edge] (DDX1) -- (FAM98A) (DDX1) -- (RTCB) (DDX1) -- (RTRAF) (FAM98A) -- (RTRAF) (RTCB) -- (RTRAF)
  (DDX1) -- (ACIN1) (RTCB) -- (IQGAP1);
\draw[edge] (LSM12) -- (ATXN2L) (ATXN2L) -- (PABPC4) (CBFB) -- (RUNX1) (CBFB) -- (RUNX3) (RUNX1) -- (RUNX3)
  (CBFB) -- (G3BP1) (CAPRIN1) -- (G3BP1) (ABLIM1) -- (RAC2) (RAC2) -- (RCN2) (RAC2) -- (ARHGEF1)
  (RCN2) -- (ARHGEF1) (SFXN1) -- (GLS) (RAC2) -- (PHB2) (SLC25A1) -- (PHB2) (CHCHD3) -- (IMMT)
  (ARHGEF1) -- (IMMT) (FHOD1) -- (FLNB) (FLNB) -- (CAMK2D) (TNIP1) -- (TNFAIP3) (TNFAIP3) -- (TRAF1)
  (RUVBL1) -- (KPNB1) (IFI16) -- (DDX41) (FLII) -- (LRRFIP2) (HNRNPH3) -- (HNRNPDL) (FLII) -- (HNRNPDL)
  (DHCR7) -- (EBP) (TRIM21) -- (RBBP5) (TRIM21) -- (RNF213) (RNF213) -- (RBBP5) (DDX41) -- (TRIM21)
  (KPNB1) -- (NAP1L1);
\end{scope}

\end{tikzpicture}
\end{document}
